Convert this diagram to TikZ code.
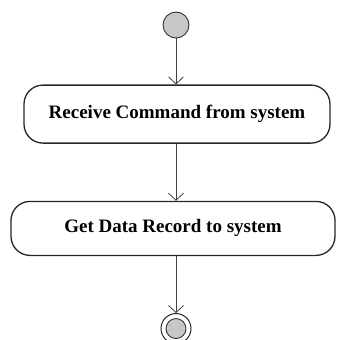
\documentclass[tikz,border=0pt]{standalone}
\usepackage{fontspec}
\setmainfont{Liberation Serif}
\usetikzlibrary{positioning}
\usetikzlibrary{arrows.meta}

\begin{document}
\begin{tikzpicture}[startnode/.style={circle, draw=black!80, fill=black!22, line width=0.9pt, minimum size=26pt, inner sep=0pt},
        actnode/.style={rectangle, rounded corners=19pt, draw=black!85, line width=1.3pt, font=\fontsize{19}{22}\selectfont\bfseries, inner sep=0pt},
        endring/.style={circle, draw=black!85, line width=1pt, minimum size=30pt, inner sep=0pt},
        enddot/.style={circle, draw=black!80, fill=black!22, line width=0.9pt, minimum size=20pt, inner sep=0pt},
        flow/.style={-{Straight Barb[length=7pt,width=15pt]}, draw=black!75, line width=0.8pt},
        node distance=46pt]
            \useasboundingbox (0,0) rectangle (338pt,-340pt);
            \node[startnode]    (start)      at (176pt,-25pt) {};
            \node[actnode, minimum width=306pt, minimum height=58pt]    (recvcmd)    [below=of start, xshift=1pt]{Receive Command from system};
            \node[actnode, minimum width=324pt, minimum height=54pt]    (getrec)     [below=57pt of recvcmd, xshift=-4pt]{Get Data Record to system};
            \node[endring]      (stop)       [below=57pt of getrec, xshift=3pt]{};
            \node[enddot]       (stopdot)    at (stop) {};

            \draw[flow] (start) -- (start |- recvcmd.north);
            \draw[flow] (recvcmd.south -| start) -- (getrec.north -| start);
            \draw[flow] (getrec.south -| start) -- (stop);
        \end{tikzpicture}
\end{document}
